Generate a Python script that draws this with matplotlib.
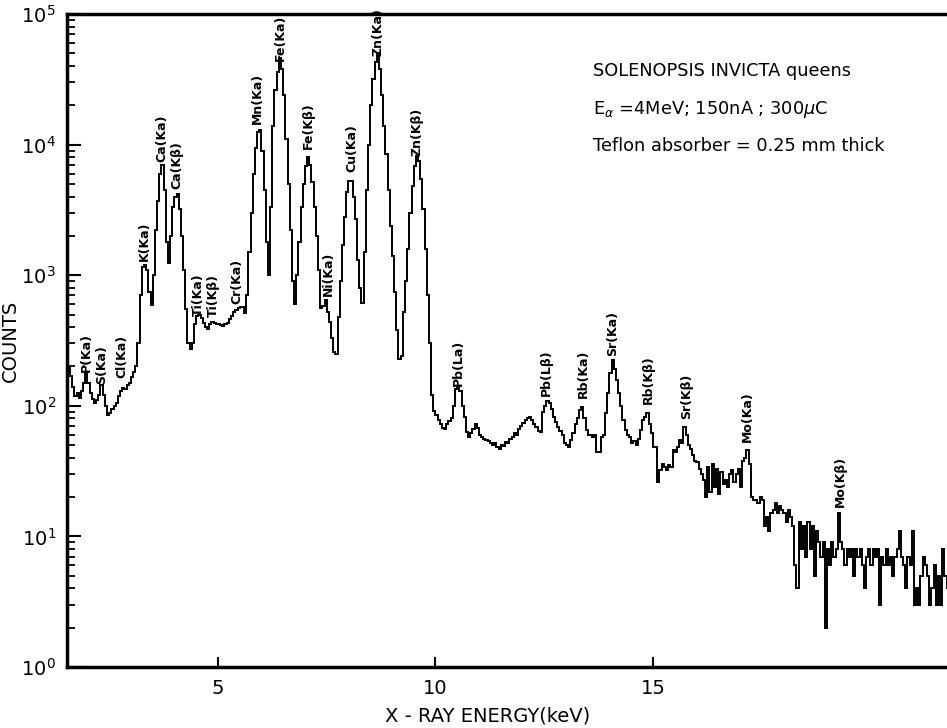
import numpy as np
import matplotlib.pyplot as plt

plt.rcParams['font.family'] = 'DejaVu Sans'

# counts per 0.05 keV channel, starting at 1.50 keV
counts_a = [  # 1.50 - 5.45 keV
    190, 200, 170, 140, 118, 125, 115, 130, 150, 178,
    150, 125, 112, 105, 110, 120, 145, 120, 100, 85,
    88, 95, 100, 105, 118, 130, 137, 135, 145, 150,
    165, 180, 200, 300, 700, 1150, 1200, 1100, 750, 590,
    1000, 2200, 3700, 6000, 7000, 4500, 1800, 1250, 2000, 3300,
    4000, 4200, 3200, 2000, 1100, 550, 300, 270, 300, 420,
    490, 500, 470, 430, 400, 390, 420, 440, 430, 425,
    420, 415, 410, 420, 430, 460, 490, 520, 540, 560,
]
counts_b = [  # 5.50 - 9.95 keV
    575, 570, 510, 700, 1500, 3000, 6000, 9500, 12500, 13000,
    9000, 4500, 1800, 1000, 3300, 14000, 26000, 36000, 46000, 38000,
    24000, 11000, 5000, 2200, 900, 600, 1000, 1800, 3300, 5000,
    6800, 8000, 7000, 5200, 3300, 2000, 1100, 560, 580, 650,
    520, 440, 330, 260, 250, 480, 900, 1700, 2800, 4300,
    5300, 5300, 4000, 2700, 1300, 800, 610, 1500, 4500, 10000,
    20000, 32000, 43000, 50000, 38000, 24000, 14000, 8500, 4500, 2400,
    1400, 750, 380, 230, 240, 520, 900, 1600, 3000, 4800,
    6800, 8200, 7500, 5500, 3200, 1600, 700, 300, 120, 92,
]
counts_c = [  # 10.00 - 14.95 keV
    85, 78, 72, 68, 66, 72, 76, 80, 100, 135,
    138, 130, 100, 82, 63, 58, 62, 66, 72, 68,
    60, 58, 56, 55, 54, 52, 50, 52, 48, 47,
    50, 49, 53, 52, 56, 58, 62, 60, 66, 70,
    74, 78, 80, 82, 78, 72, 69, 64, 63, 90,
    100, 108, 105, 95, 82, 75, 69, 64, 60, 52,
    50, 48, 55, 62, 72, 80, 93, 98, 80, 65,
    60, 60, 58, 60, 44, 44, 58, 60, 88, 125,
    178, 225, 190, 158, 125, 100, 78, 65, 60, 58,
    52, 54, 50, 56, 65, 78, 82, 88, 72, 62,
]
counts_d = [  # 15.00 - 21.75 keV
    48, 48, 26, 32, 36, 34, 32, 35, 34, 46,
    44, 48, 55, 52, 69, 60, 50, 47, 42, 38,
    37, 33, 30, 27, 20, 34, 22, 36, 24, 33,
    21, 31, 25, 27, 24, 30, 32, 26, 30, 33,
    24, 38, 40, 46, 36, 20, 19, 19, 18, 20,
    19, 12, 14, 11, 15, 16, 18, 15, 17, 16,
    15, 13, 16, 14, 12, 6, 4, 13, 8, 12,
    7, 13, 8, 12, 5, 11, 9, 7, 9, 2,
    8, 6, 9, 7, 8, 15, 9, 8, 6, 8,
    7, 8, 5, 8, 7, 8, 6, 4, 7, 8,
    6, 8, 7, 8, 3, 7, 6, 8, 6, 7,
    5, 7, 8, 11, 7, 6, 4, 7, 6, 11,
    3, 4, 3, 5, 7, 6, 5, 3, 4, 6,
    3, 5, 3, 8, 5, 4,
]

peak_names = ["P(Ka)", "S(Ka)", "Cl(Ka)", "K(Ka)", "Ca(Ka)", "Ca(Kβ)",
              "Ti(Ka)", "Ti(Kβ)", "Cr(Ka)", "Mn(Ka)", "Fe(Ka)", "Fe(Kβ)",
              "Ni(Ka)", "Cu(Ka)", "Zn(Ka)", "Zn(Kβ)", "Pb(La)", "Pb(Lβ)",
              "Rb(Ka)", "Sr(Ka)", "Rb(Kβ)", "Sr(Kβ)", "Mo(Ka)", "Mo(Kβ)"]
peak_kev = [1.97, 2.33, 2.79, 3.32, 3.71, 4.06, 4.54, 4.89, 5.44, 5.90,
            6.43, 7.07, 7.53, 8.08, 8.68, 9.57, 10.52, 12.56, 13.39, 14.08,
            14.89, 15.78, 17.18, 19.30]
peak_counts = [178, 144, 158, 1260, 7230, 4490, 479, 470, 591, 14100,
               42900, 9090, 681, 6060, 46900, 8040, 139, 117, 111, 236,
               101, 78, 52, 16.5]

counts = np.array(counts_a + counts_b + counts_c + counts_d, dtype=float)
edges = 1.50 + 0.05 * np.arange(len(counts) + 1)

fig = plt.figure(figsize=(9.47, 7.28), dpi=100)
ax = fig.add_axes([67 / 947, 61 / 728, 880 / 947, 653 / 728])

ax.stairs(counts, edges, color='black', lw=1.4, baseline=None)
ax.set_yscale('log')
ax.set_xlim(1.53, 21.76)
ax.set_ylim(1, 1e5)

ax.set_xticks([5, 10, 15])
ax.set_xticklabels(['5', '10', '15'])
ax.tick_params(which='both', direction='in', top=False, right=False)
ax.tick_params(axis='y', which='major', length=10, width=1.5, labelsize=14, pad=8)
ax.tick_params(axis='y', which='minor', length=6, width=1.3)
ax.tick_params(axis='x', which='major', length=7, width=1.5, labelsize=14, pad=9)
ax.tick_params(axis='x', which='minor', length=0)

for s in ['left', 'bottom', 'top']:
    ax.spines[s].set_linewidth(2.5)
ax.spines['right'].set_visible(False)

ax.set_ylabel('COUNTS', fontsize=14)
ax.yaxis.set_label_coords(-0.053, 0.5)
ax.set_xlabel('X - RAY ENERGY(keV)', fontsize=14)
ax.xaxis.set_label_coords(0.478, -0.061)

for name, kev, c in zip(peak_names, peak_kev, peak_counts):
    ax.annotate(name, xy=(kev, c), xytext=(0, 1), textcoords='offset points',
                rotation=90, ha='center', va='bottom', fontsize=9,
                fontweight='bold', annotation_clip=False)

fig.text(593 / 947, 1 - 76 / 728, 'SOLENOPSIS INVICTA queens', fontsize=12.8)
fig.text(593 / 947, 1 - 114 / 728, r'E$_{\alpha}$ =4MeV; 150nA ; 300$\mu$C', fontsize=12.8)
fig.text(593 / 947, 1 - 151 / 728, 'Teflon absorber = 0.25 mm thick', fontsize=12.8)

fig.savefig('out.png', dpi=100)
